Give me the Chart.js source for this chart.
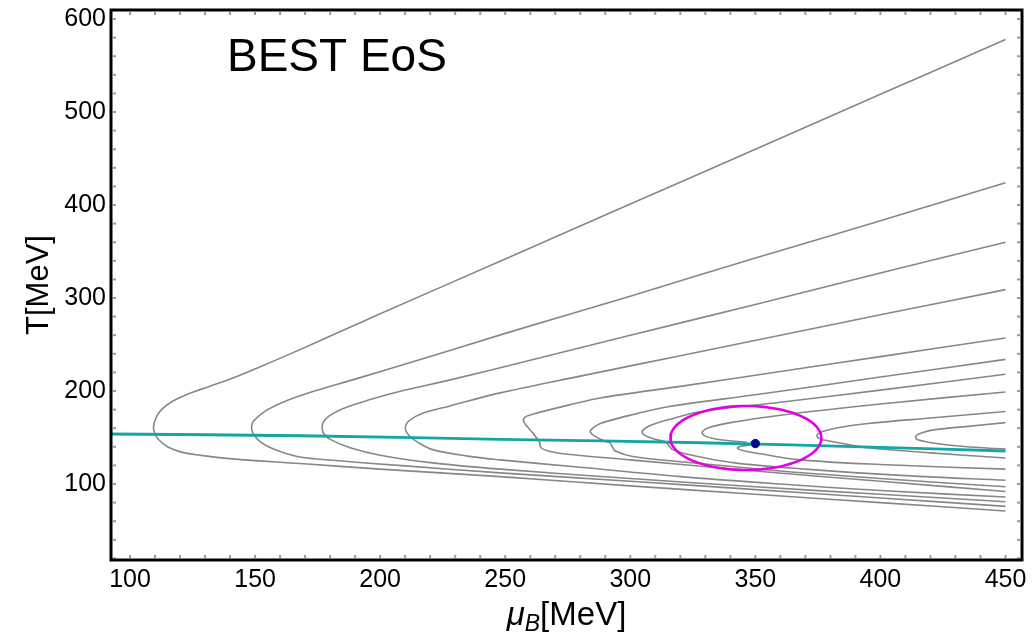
<!DOCTYPE html>
<html>
<head>
<meta charset="utf-8">
<script src="https://cdn.jsdelivr.net/npm/chart.js@4.4.1/dist/chart.umd.min.js"></script>
<style>
  html, body { margin: 0; padding: 0; background: #fff; }
  #wrap { width: 1036px; height: 635px; position: relative; }
</style>
</head>
<body>
<div id="wrap"><canvas id="c" width="1036" height="635"></canvas></div>
<script>
// ---- axis settings / tick labels ----
const xTicks = [100, 150, 200, 250, 300, 350, 400, 450];
const yTicks = [100, 200, 300, 400, 500, 600];
const xRange = [92.4, 456.6];
const yRange = [18.3, 609.7];

// ---- crossover line (teal) ----
const crossMu = [92.4, 168, 248, 328, 400, 450];
const crossT  = [153.8, 151.9, 148.0, 144.4, 139.5, 135.5];

// ---- critical point ----
const critMu = [350];
const critT  = [143.5];

// ---- critical region ellipse (centre and half-widths) ----
const ellCenter = [346.2, 149.5];
const ellRadius = [30.2, 34.4];

// ---- isentropic trajectories (grey) ----
const c1Mu = [450, 400, 350, 300, 250, 200, 185, 165, 152, 143, 135, 128, 122, 117, 113, 110.5, 109.4, 109.8, 111, 115, 121, 128, 141, 168, 200, 248, 300, 350, 400, 450];
const c1T  = [578, 519, 460, 401, 342, 283, 265, 241, 226, 216, 208, 201.5, 195.5, 189, 181, 172, 162, 155, 149, 140, 134, 131, 127, 122, 116, 108, 98, 89, 80, 71];

const c2Mu = [450, 400, 350, 300, 250, 220, 189, 175, 163, 155, 151, 149, 148.6, 149.3, 151, 154, 160, 168, 181, 210, 248, 300, 350, 400, 450];
const c2T  = [424, 383, 343, 302, 262, 237, 212, 201, 190, 180, 172, 166, 160, 154, 148, 142, 135, 129, 125.5, 119.5, 112, 103, 94, 85, 76];

const c3Mu = [450, 400, 350, 300, 260, 228, 210, 195, 185, 179.5, 177.2, 176.8, 177.5, 180, 188, 200, 220, 248, 300, 350, 400, 450];
const c3T  = [360, 327, 293, 260, 233, 212, 201, 190, 181, 173, 166, 160, 154, 148, 139, 131, 123, 116, 106, 97, 89, 81];

const c4Mu = [450, 400, 360, 320, 280, 248, 228, 217, 212, 210.2, 210.3, 212, 215, 221, 235, 248, 280, 320, 360, 400, 450];
const c4T  = [309, 282, 260, 238, 216, 198, 184, 176, 169, 163, 157, 151, 145, 137, 130, 126, 118, 108, 100, 93, 86];

const c5Mu = [450, 400, 360, 320, 288, 268, 261, 258, 257.3, 258.7, 261, 262.7, 263.7, 264.3, 268, 275, 300, 350, 400, 450];
const c5T  = [257, 237, 221, 205, 192.5, 180, 175, 172, 168, 162, 155, 149, 145, 139, 135, 132, 126, 114, 103, 92];

const c6Mu = [450, 400, 350, 315, 295, 288, 285, 284, 285.5, 289, 292, 292.8, 294, 301, 320, 360, 400, 450];
const c6T  = [234, 215, 196, 183, 170.6, 165, 160, 156, 152, 147, 144, 140, 135.5, 129.5, 124, 114, 106, 97];

const c7Mu = [450, 400, 360, 328, 315, 309, 306, 304.7, 306, 310, 314, 315.5, 317, 322, 341, 370, 410, 450];
const c7T  = [218, 201, 188, 177.7, 169, 164, 160, 156, 152, 148, 145.5, 141, 137, 132.5, 123, 116, 109, 104];

const c8aMu = [450, 400, 360, 340, 333, 330, 328.7, 330, 334, 340, 346.5];
const c8aT  = [199, 186, 174, 166, 162, 159, 155, 151.5, 148.5, 146.5, 145];
const c8bMu = [348, 344, 342.8, 345, 352, 368, 400, 450];
const c8bT  = [142, 140.5, 138.5, 136, 132.5, 126, 121, 116];

const c9Mu = [450, 420, 395, 383, 377.5, 375, 374.7, 376, 380, 386, 395, 420, 450];
const c9T  = [178, 171, 165, 160.5, 157, 154, 151, 148.5, 146, 143, 139, 133.5, 128];

const c10Mu = [450, 435, 422, 417, 414.5, 414, 415, 419, 427, 438, 450];
const c10T  = [166, 162, 158.5, 155.5, 152.5, 150, 147.5, 145, 142, 139.5, 137.5];

// ---- helpers ----
const pts = (xs, ys) => xs.map((x, i) => ({ x: x, y: ys[i] }));
const ellipsePts = [];
for (let k = 0; k <= 96; k++) {
  const a = 2 * Math.PI * k / 96;
  ellipsePts.push({ x: ellCenter[0] + ellRadius[0] * Math.cos(a), y: ellCenter[1] + ellRadius[1] * Math.sin(a) });
}

const FONT = "'Liberation Sans', Arial, Helvetica, sans-serif";
const GREY = '#878787';

const greyCurves = [
  [c1Mu, c1T], [c2Mu, c2T], [c3Mu, c3T], [c4Mu, c4T], [c5Mu, c5T],
  [c6Mu, c6T], [c7Mu, c7T], [c8aMu, c8aT], [c8bMu, c8bT], [c9Mu, c9T], [c10Mu, c10T]
];

const datasets = greyCurves.map(([xs, ys]) => ({
  data: pts(xs, ys), showLine: true, borderColor: GREY, borderWidth: 1.6,
  pointRadius: 0, tension: 0.35, order: 3
}));
datasets.push({
  data: pts(crossMu, crossT), showLine: true, borderColor: '#12a6a6', borderWidth: 2.8,
  pointRadius: 0, tension: 0.4, order: 2
});
datasets.push({
  data: ellipsePts, showLine: true, borderColor: '#e600e6', borderWidth: 2.6,
  pointRadius: 0, tension: 0, order: 1
});
datasets.push({
  data: pts(critMu, critT), showLine: false, pointRadius: 4.2,
  pointBackgroundColor: '#000a8c', pointBorderColor: '#000a8c', order: 0
});

const decor = {
  id: 'decor',
  afterDraw(chart) {
    const ctx = chart.ctx, a = chart.chartArea;
    const xs = chart.scales.x, ys = chart.scales.y;
    ctx.save();
    // minor tick dots
    ctx.fillStyle = '#9a9a9a';
    for (let v = 100; v <= 450; v += 10) {
      const px = xs.getPixelForValue(v);
      ctx.fillRect(px - 1, a.bottom - 5, 2, 3);
      ctx.fillRect(px - 1, a.top + 2, 2, 3);
    }
    for (let v = 20; v <= 600; v += 20) {
      const py = ys.getPixelForValue(v);
      ctx.fillRect(a.left + 2, py - 1, 3, 2);
      ctx.fillRect(a.right - 5, py - 1, 3, 2);
    }
    // frame
    ctx.strokeStyle = '#000';
    ctx.lineWidth = 3;
    ctx.strokeRect(a.left, a.top, a.right - a.left, a.bottom - a.top);
    // in-plot label
    ctx.fillStyle = '#000';
    ctx.font = '46px ' + FONT;
    ctx.textAlign = 'left';
    ctx.textBaseline = 'alphabetic';
    ctx.fillText('BEST EoS', 227, 71);
    // x-axis title: μ_B[MeV]
    const cx = (a.left + a.right) / 2;
    const fMain = '33px ' + FONT, fIt = 'italic 33px ' + FONT, fSub = 'italic 23px ' + FONT;
    ctx.font = fIt; const w1 = ctx.measureText('μ').width;
    ctx.font = fSub; const w2 = ctx.measureText('B').width;
    ctx.font = fMain; const w3 = ctx.measureText('[MeV]').width;
    let x0 = cx - (w1 + w2 + w3) / 2;
    const base = 625;
    ctx.font = fIt; ctx.fillText('μ', x0, base); x0 += w1;
    ctx.font = fSub; ctx.fillText('B', x0, base + 6); x0 += w2;
    ctx.font = fMain; ctx.fillText('[MeV]', x0, base);
    // y-axis title
    ctx.translate(48, (a.top + a.bottom) / 2);
    ctx.rotate(-Math.PI / 2);
    ctx.textAlign = 'center';
    ctx.font = '31px ' + FONT;
    ctx.fillText('T[MeV]', 0, 0);
    ctx.restore();
  }
};

new Chart(document.getElementById('c'), {
  type: 'scatter',
  data: { datasets: datasets },
  options: {
    responsive: false,
    animation: false,
    devicePixelRatio: 1,
    layout: { padding: { left: 0, right: 14, top: 10, bottom: 0 } },
    plugins: { legend: { display: false }, tooltip: { enabled: false }, title: { display: false } },
    scales: {
      x: {
        type: 'linear', min: xRange[0], max: xRange[1],
        afterBuildTicks: s => { s.ticks = xTicks.map(v => ({ value: v })); },
        afterFit: s => { s.height = 75; s.paddingLeft = 0; s.paddingRight = 0; },
        grid: { display: false, drawTicks: false },
        border: { display: false },
        ticks: { color: '#000', font: { family: FONT, size: 25 }, padding: 5, maxRotation: 0, autoSkip: false,
                 callback: v => String(v) }
      },
      y: {
        type: 'linear', min: yRange[0], max: yRange[1],
        afterBuildTicks: s => { s.ticks = yTicks.map(v => ({ value: v })); },
        afterFit: s => { s.width = 111; s.paddingTop = 0; s.paddingBottom = 0; },
        grid: { display: false, drawTicks: false },
        border: { display: false },
        ticks: { color: '#000', font: { family: FONT, size: 25 }, padding: 5, autoSkip: false,
                 callback: v => String(v) }
      }
    }
  },
  plugins: [decor]
});
</script>
</body>
</html>
